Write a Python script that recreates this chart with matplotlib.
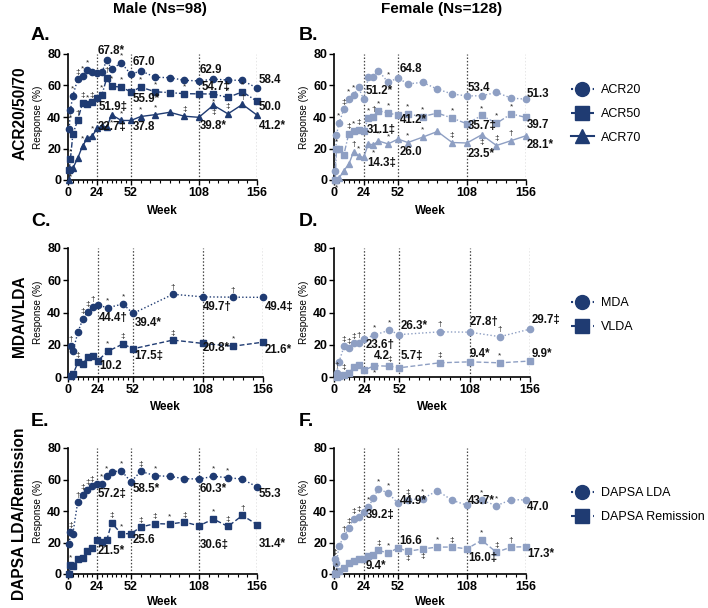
import matplotlib
matplotlib.use("Agg")
import matplotlib.pyplot as plt
from matplotlib.lines import Line2D

plt.rcParams['font.family'] = ['Liberation Sans', 'DejaVu Sans']

W, H = 708, 608
NAVY = '#1f3b72'
LIGHT = '#8e9fc3'
MARKC = '#222222'

# ---------------- data ----------------
weeks_acr = [1, 2, 4, 8, 12, 16, 20, 24, 28, 32, 36, 44, 52, 60, 72, 84, 96, 108, 120, 132, 144, 156]
acr20_m = [32.5, 44.6, 53.5, 64, 66, 70, 68.4, 67.8, 68.5, 76, 70.5, 74.3, 67.0, 69.4, 65.2, 65, 63.3, 62.9, 64, 63.5, 63.2, 58.4]
acr50_m = [6.5, 13.4, 29, 38, 49, 48, 49.5, 51.9, 54, 64.8, 59.5, 59, 55.9, 59, 56, 55.5, 54.8, 54.7, 54.6, 52.4, 56, 50.0]
acr70_m = [0, 6.8, 7.5, 13.8, 21.6, 26.5, 28, 32.7, 34.4, 33.5, 41.4, 37.8, 37.8, 40.3, 41.5, 43, 40.5, 39.8, 47.5, 42, 48, 41.2]
acr20_f = [6, 28.7, 36, 45, 51.6, 54, 58.8, 51.2, 65.5, 65.5, 69.5, 62, 64.8, 61, 62, 57.7, 54.6, 53.4, 53.5, 55.6, 52, 51.3]
acr50_f = [0, 19.5, 19.5, 16, 29.5, 31.2, 31.8, 31.1, 39.3, 40.3, 44, 42.5, 41.2, 41.8, 40.3, 42.5, 39.3, 35.7, 41, 36, 42, 39.7]
acr70_f = [0, 0, 1, 6, 10, 18, 15.3, 14.3, 22.9, 22.3, 24.8, 22.9, 26.0, 23.8, 27.2, 30.8, 23.8, 23.5, 28.7, 21.9, 25, 28.1]

acr20_m_sig = ['', '_*', '*', '\u2021', '*', '*', '', '', '', '', '', '*', '', '', '', '', '', '', '', '', '', '']
acr50_m_sig = ['', '*', '', '\u2020', '\u2021', '*', '\u2021', '', '*', '\u2020', '*', '*', '', '*', '*', '', '*', '', '_*', '*', '*', '']
acr70_m_sig = ['', '_*', '', '', '*', '', '*', '', '', '', '_*', '*', '', '*', '*', '', '\u2021', '', '_\u2021', '\u2021', '\u2020', '']
acr20_f_sig = ['', '', '*', '\u2021', '*', '*', '', '', '', '', '', '*', '', '', '', '', '', '', '', '', '', '']
acr50_f_sig = ['', '*', '', '', '\u2021', '*', '\u2021', '', '*', '\u2020', '*', '*', '', '*', '*', '', '*', '', '*', '*', '*', '']
acr70_f_sig = ['', '_*', '', '', '', '\u2020', '*', '', '', '_*', '*', '*', '', '*', '*', '', '\u2021', '', '_\u2021', '\u2021', '\u2020', '']

weeks_mda = [2, 4, 8, 12, 16, 20, 24, 32, 44, 52, 84, 108, 132, 156]
mda_m = [19.1, 16.2, 28, 36.2, 40.5, 43.6, 44.4, 43, 45.3, 39.4, 51.3, 49.7, 49.5, 49.4]
vlda_m = [0.4, 1.7, 9.1, 8.3, 12.5, 13.3, 10.2, 16, 20.5, 17.5, 22.9, 20.8, 19.1, 21.6]
mda_f = [2.5, 9.4, 19, 17.7, 20.8, 21.2, 23.6, 26, 29, 26.3, 28, 27.8, 25, 29.7]
vlda_f = [0, 0.5, 1.5, 2.5, 6.5, 7.2, 4.2, 7, 6.7, 5.7, 8.8, 9.4, 8.8, 9.9]

mda_m_sig = ['\u2020', '', '', '\u2021', '\u2021', '\u2020', '', '*', '*', '', '\u2020', '', '\u2020', '']
vlda_m_sig = ['', '', '\u2021', '', '', '', '', '*', '\u2021', '', '\u2021', '', '*', '']
mda_f_sig = ['\u2020', '', '\u2021', '\u2021', '\u2021', '\u2020', '', '*', '*', '', '\u2020', '', '\u2020', '']
vlda_f_sig = ['', '', '\u2021', '', '', '', '', '_*', '\u2021', '', '\u2021', '', '*', '']

weeks_dapsa = [1, 2, 4, 8, 12, 16, 20, 24, 28, 32, 36, 44, 52, 60, 72, 84, 96, 108, 120, 132, 144, 156]
lda_m = [19.3, 26.5, 25.6, 45.7, 50.4, 53.5, 55.7, 57.2, 57.4, 62.4, 64.8, 65.6, 58.5, 65.2, 62.4, 62, 60.5, 60.3, 62, 61.2, 60.2, 55.3]
rem_m = [0, 5.5, 4.9, 9.5, 10.2, 14.4, 16.5, 21.5, 20.3, 21.4, 32.4, 25.6, 25.6, 29.8, 32, 31.7, 33, 30.6, 34.9, 30.2, 37.2, 31.4]
lda_f = [9.5, 7, 17.6, 23.9, 29.2, 35, 36.5, 39.2, 42.5, 48.3, 54, 51.4, 44.9, 47.2, 47.8, 52.9, 46.8, 43.7, 46.8, 43.4, 47.2, 47.0]
rem_f = [0, 0.6, 1.7, 3.8, 7, 8.5, 9.5, 9.4, 11.6, 12.3, 15, 13.3, 16.6, 14.4, 15.9, 17.1, 17.1, 16.0, 21.4, 13.8, 17.1, 17.3]

lda_m_sig = ['', '\u2021', '', '\u2020', '\u2021', '\u2021', '\u2021', '', '*', '*', '', '*', '', '\u2021', '*', '', '', '', '*', '*', '', '']
rem_m_sig = ['', '*', '', '', '', '', '', '', '', '', '\u2021', '*', '', '\u2021', '\u2021', '*', '\u2021', '', '*', '\u2021', '\u2020', '']
lda_f_sig = ['\u2021', '_*', '', '\u2020', '\u2021', '\u2021', '\u2021', '', '*', '', '*', '*', '', '\u2021', '*', '', '', '', '*', '*', '', '']
rem_f_sig = ['', '*', '', '', '', '', '', '', '', '', '\u2021', '*', '', '_\u2021', '_\u2021', '*', '\u2021', '', '*', '\u2021', '\u2020', '']

# value labels: (week position, y position, text)
labels_A = [(24.5, 81.7, '67.8*'), (25.3, 46.3, '51.9\u2021'), (24.5, 33.5, '32.7\u2021'),
            (53.6, 74.9, '67.0'), (53.6, 51.5, '55.9*'), (53.6, 33.5, '37.8'),
            (108.7, 69.6, '62.9'), (110, 59, '54.7\u2021'), (108.7, 34.4, '39.8*'),
            (157.6, 63.7, '58.4'), (157.6, 46.3, '50.0'), (157.6, 34.6, '41.2*')]
labels_B = [(25.9, 56.2, '51.2*'), (26.7, 31.8, '31.1\u2021'), (26.7, 10.6, '14.3\u2021'),
            (53.3, 70.4, '64.8'), (53.3, 37.8, '41.2*'), (53.3, 18, '26.0'),
            (108.9, 58.4, '53.4'), (108.9, 34.4, '35.7\u2021'), (108.9, 16.6, '23.5*'),
            (156.8, 54.5, '51.3'), (156.8, 35, '39.7'), (156.8, 22.3, '28.1*')]
labels_C = [(24.5, 36.8, '44.4\u2020'), (53.3, 33.2, '39.4*'), (25.3, 6.6, '10.2'), (53.3, 12.9, '17.5\u2021'),
            (108, 43.6, '49.7\u2020'), (157.3, 43.6, '49.4\u2021'), (108, 17.7, '20.8*'), (157.3, 17, '21.6*')]
labels_D = [(24.8, 19.7, '23.6\u2020'), (53.4, 31.6, '26.3*'), (32, 12.9, '4.2'), (53.4, 12.9, '5.7\u2021'),
            (108.2, 34.3, '27.8\u2020'), (108.2, 14.5, '9.4*'), (157, 35.3, '29.7\u2021'), (157, 14.5, '9.9*')]
labels_E = [(24.7, 50.8, '57.2\u2021'), (53, 54, '58.5*'), (109, 54, '60.3*'), (157.4, 50.8, '55.3'),
            (24.7, 14.4, '21.5*'), (53, 21.4, '25.6'), (109, 18.6, '30.6\u2021'), (157.4, 19.3, '31.4*')]
labels_F = [(25.9, 37.7, '39.2\u2021'), (53.3, 46.1, '44.9*'), (108.9, 46.1, '43.7*'), (156.8, 42.5, '47.0'),
            (25.9, 4.9, '9.4*'), (53.3, 20.7, '16.6'), (108.9, 10.2, '16.0\u2021'), (156.8, 12.9, '17.3*')]

major_weeks = [0, 24, 52, 108, 156]
minor_weeks = [4, 8, 12, 16, 20, 28, 32, 36, 40, 44, 48, 60, 68, 76, 84, 92, 100, 116, 124, 132, 140, 148]
ref_weeks = [24, 52, 108, 156]

fig = plt.figure(figsize=(W / 100, H / 100), dpi=100)


def mk_ax(x0, x1, yt, yb):
    return fig.add_axes([x0 / W, 1 - yb / H, (x1 - x0) / W, (yb - yt) / H])


def style_ax(ax, week_pad=4):
    ax.set_xlim(0, 156)
    ax.set_ylim(0, 80)
    for s in ['top', 'right']:
        ax.spines[s].set_visible(False)
    for s in ['left', 'bottom']:
        ax.spines[s].set_linewidth(1.2)
    ax.set_xticks(major_weeks)
    ax.set_xticks(minor_weeks, minor=True)
    ax.set_yticks([0, 20, 40, 60, 80])
    ax.tick_params(axis='both', which='major', labelsize=9, length=3.5, width=1, pad=1.5)
    ax.tick_params(axis='x', which='minor', length=2, width=0.8)
    for lab in ax.get_xticklabels() + ax.get_yticklabels():
        lab.set_fontweight('bold')
    ax.vlines(ref_weeks, 0, 80, colors='#444444', linestyles=(0, (1.2, 1.5)), lw=0.9, zorder=1)
    ax.set_ylabel('Response (%)', fontsize=7.2, labelpad=3)
    ax.set_xlabel('Week', fontsize=8.5, fontweight='bold', labelpad=week_pad)


def plot_series(ax, x, y, sig, color, marker, ls, ms=4.5):
    ax.plot(x, y, color=color, marker=marker, linestyle=ls, lw=1.0, ms=ms, clip_on=False, zorder=3)
    for xi, yi, s in zip(x, y, sig):
        if not s:
            continue
        if s.startswith('_'):
            ax.annotate(s[1:], (xi, yi), xytext=(0, -3), textcoords='offset points',
                        ha='center', va='top', fontsize=6, color=MARKC, zorder=4)
        else:
            ax.annotate(s, (xi, yi), xytext=(0, 2.5), textcoords='offset points',
                        ha='center', va='bottom', fontsize=6, color=MARKC, zorder=4)


def put_labels(ax, labs):
    for xx, yy, t in labs:
        ax.text(xx, yy, t, fontsize=8.3, fontweight='bold', ha='left', va='center',
                color='#111111', clip_on=False, zorder=5)


DOT = (0, (1, 1.6))
DASHDOT = (0, (4, 1.5, 1, 1.5))
DASH = (0, (3.5, 1.8))

# Panel A
axA = mk_ax(68, 257, 54, 180)
style_ax(axA)
plot_series(axA, weeks_acr, acr20_m, acr20_m_sig, NAVY, 'o', DOT)
plot_series(axA, weeks_acr, acr50_m, acr50_m_sig, NAVY, 's', DASHDOT)
plot_series(axA, weeks_acr, acr70_m, acr70_m_sig, NAVY, '^', '-')
put_labels(axA, labels_A)

# Panel B
axB = mk_ax(334, 526, 54, 180)
style_ax(axB)
plot_series(axB, weeks_acr, acr20_f, acr20_f_sig, LIGHT, 'o', DOT)
plot_series(axB, weeks_acr, acr50_f, acr50_f_sig, LIGHT, 's', DASHDOT)
plot_series(axB, weeks_acr, acr70_f, acr70_f_sig, LIGHT, '^', '-')
put_labels(axB, labels_B)

# Panel C
axC = mk_ax(68, 263, 248, 377)
style_ax(axC)
plot_series(axC, weeks_mda, mda_m, mda_m_sig, NAVY, 'o', DOT)
plot_series(axC, weeks_mda, vlda_m, vlda_m_sig, NAVY, 's', DASH)
put_labels(axC, labels_C)

# Panel D
axD = mk_ax(334, 530, 248, 377)
style_ax(axD)
plot_series(axD, weeks_mda, mda_f, mda_f_sig, LIGHT, 'o', DOT)
plot_series(axD, weeks_mda, vlda_f, vlda_f_sig, LIGHT, 's', DASH)
put_labels(axD, labels_D)

# Panel E
axE = mk_ax(68, 257, 448, 574)
style_ax(axE, week_pad=2)
plot_series(axE, weeks_dapsa, lda_m, lda_m_sig, NAVY, 'o', DOT)
plot_series(axE, weeks_dapsa, rem_m, rem_m_sig, NAVY, 's', DASH)
put_labels(axE, labels_E)

# Panel F
axF = mk_ax(334, 526, 448, 574)
style_ax(axF, week_pad=2)
plot_series(axF, weeks_dapsa, lda_f, lda_f_sig, LIGHT, 'o', DOT)
plot_series(axF, weeks_dapsa, rem_f, rem_f_sig, LIGHT, 's', DASH)
put_labels(axF, labels_F)

# Titles / panel letters / row labels
fig.text(160 / W, 1 - 9 / H, 'Male (Ns=98)', ha='center', va='center', fontsize=11, fontweight='bold')
fig.text(442 / W, 1 - 9 / H, 'Female (Ns=128)', ha='center', va='center', fontsize=11, fontweight='bold')
for (px, py, t) in [(31, 36, 'A.'), (299, 36, 'B.'), (31, 222, 'C.'), (299, 222, 'D.'), (31, 422, 'E.'), (299, 422, 'F.')]:
    fig.text(px / W, 1 - py / H, t, ha='left', va='center', fontsize=14, fontweight='bold')
for (px, py, t) in [(20, 113, 'ACR20/50/70'), (20, 316, 'MDA/VLDA'), (20, 514, 'DAPSA LDA/Remission')]:
    fig.text(px / W, 1 - py / H, t, ha='center', va='center', rotation=90, fontsize=11.2,
             fontweight='bold')

# Legends


def legend(handles, labels, x, y):
    fig.legend(handles, labels, loc='upper left', bbox_to_anchor=(x / W, 1 - y / H), frameon=False,
               fontsize=9, handlelength=1.8, handletextpad=0.6, labelspacing=0.95, borderaxespad=0, borderpad=0)


h_acr = [Line2D([], [], color=NAVY, marker='o', ms=10, ls=DOT, lw=1.5),
         Line2D([], [], color=NAVY, marker='s', ms=10, ls=DASHDOT, lw=1.5),
         Line2D([], [], color=NAVY, marker='^', ms=10, ls='-', lw=1.5)]
legend(h_acr, ['ACR20', 'ACR50', 'ACR70'], 571, 84)
h_mda = [Line2D([], [], color=NAVY, marker='o', ms=10, ls=DOT, lw=1.5),
         Line2D([], [], color=NAVY, marker='s', ms=10, ls=DASH, lw=1.5)]
legend(h_mda, ['MDA', 'VLDA'], 571, 297)
h_dap = [Line2D([], [], color=NAVY, marker='o', ms=10, ls=DOT, lw=1.5),
         Line2D([], [], color=NAVY, marker='s', ms=10, ls=DASH, lw=1.5)]
legend(h_dap, ['DAPSA LDA', 'DAPSA Remission'], 571, 487)

fig.savefig('out.png', dpi=100)
